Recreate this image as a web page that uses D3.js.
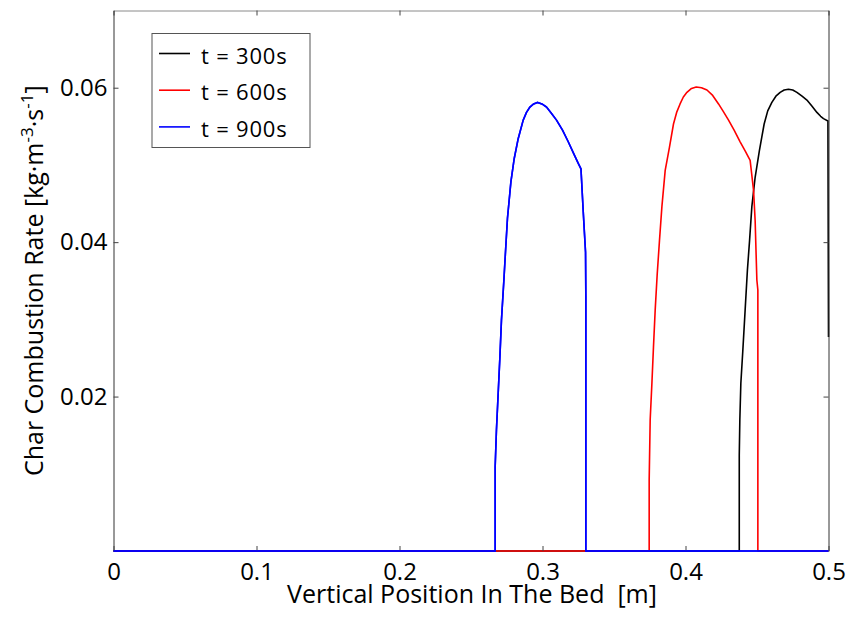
<!DOCTYPE html>
<html>
<head>
<meta charset="utf-8">
<script src="https://cdn.jsdelivr.net/npm/d3@7"></script>
<style>
  html, body { margin: 0; padding: 0; background: #fff; }
  svg { display: block; }
  text { font-family: "Open Sans", "Noto Sans", sans-serif; fill: #000; }
</style>
</head>
<body>
<svg id="chart" width="848" height="617"></svg>
<script>
// Char combustion rate profiles along the bed height at three times.
// Each series is a list of [position (m), rate (kg·m^-3·s^-1)] samples.
const seriesNames = ["t = 300s", "t = 600s", "t = 900s"];
const seriesColors = ["#000000", "#ff0000", "#0000ff"];

const rate300 = [
  [0.0, 0], [0.4376, 0], [0.4376, 0.0124], [0.4380, 0.0170], [0.4387, 0.0217],
  [0.4401, 0.0260], [0.4417, 0.0312], [0.4433, 0.0364], [0.4448, 0.0402],
  [0.4464, 0.0446], [0.4487, 0.0484], [0.4517, 0.0519], [0.4550, 0.0553],
  [0.4575, 0.0570], [0.4604, 0.0581], [0.4632, 0.0589], [0.4662, 0.0594],
  [0.4690, 0.0597], [0.4720, 0.0598], [0.4750, 0.0597], [0.4779, 0.0594],
  [0.4815, 0.0589], [0.4849, 0.0584], [0.4885, 0.0576], [0.4919, 0.0568],
  [0.4945, 0.0563], [0.4965, 0.0560], [0.4996, 0.0557], [0.5000, 0.0277]
];

const rate600 = [
  [0.0, 0], [0.3746, 0], [0.3746, 0.0092], [0.3753, 0.0170], [0.3765, 0.0217],
  [0.3776, 0.0264], [0.3788, 0.0312], [0.3802, 0.0358], [0.3818, 0.0402],
  [0.3835, 0.0446], [0.3858, 0.0493], [0.3888, 0.0523], [0.3916, 0.0553],
  [0.3938, 0.0568], [0.3962, 0.0579], [0.3985, 0.0588], [0.4010, 0.0594],
  [0.4042, 0.0599], [0.4075, 0.0601], [0.4112, 0.0600], [0.4150, 0.0597],
  [0.4190, 0.0590], [0.4231, 0.0579], [0.4265, 0.0569], [0.4301, 0.0558],
  [0.4340, 0.0545], [0.4382, 0.0530], [0.4418, 0.0518], [0.4452, 0.0506],
  [0.4476, 0.0467], [0.4487, 0.0428], [0.4499, 0.0351], [0.4506, 0.0338],
  [0.4506, 0], [0.5, 0]
];

const rate900 = [
  [0.0, 0], [0.2669, 0], [0.2669, 0.0109], [0.2678, 0.0157], [0.2690, 0.0204],
  [0.2702, 0.0251], [0.2713, 0.0299], [0.2730, 0.0351], [0.2737, 0.0374],
  [0.2755, 0.0431], [0.2779, 0.0478], [0.2802, 0.0508], [0.2830, 0.0534],
  [0.2865, 0.0558], [0.2888, 0.0568], [0.2912, 0.0575], [0.2938, 0.0579],
  [0.2965, 0.0581], [0.2996, 0.0579], [0.3028, 0.0575], [0.3062, 0.0567],
  [0.3098, 0.0558], [0.3140, 0.0545], [0.3180, 0.0530], [0.3215, 0.0516],
  [0.3250, 0.0502], [0.3269, 0.0495], [0.3285, 0.0439], [0.3301, 0.0387],
  [0.3303, 0.0331], [0.3303, 0], [0.5, 0]
];

const xTicks = [0, 0.1, 0.2, 0.3, 0.4, 0.5];
const xTickLabels = ["0", "0.1", "0.2", "0.3", "0.4", "0.5"];
const yTicks = [0.02, 0.04, 0.06];
const yTickLabels = ["0.02", "0.04", "0.06"];

const allSeries = [rate300, rate600, rate900];

const svg = d3.select("#chart");
const plot = { left: 113.5, right: 828.5, top: 10.5, bottom: 551 };

const x = d3.scaleLinear().domain([0, 0.5]).range([plot.left, plot.right]);
const y = d3.scaleLinear().domain([0, 0.07]).range([plot.bottom, plot.top]);

const tickFont = 24;
const titleFont = 25;

// Axes: labelled bottom/left, tick-only top/right (boxed frame)
const bottomAxis = d3.axisBottom(x).tickValues(xTicks)
  .tickFormat((d, i) => xTickLabels[i]).tickSizeInner(-5).tickSizeOuter(0).tickPadding(12);
const leftAxis = d3.axisLeft(y).tickValues(yTicks)
  .tickFormat((d, i) => yTickLabels[i]).tickSizeInner(-5).tickSizeOuter(0).tickPadding(6);
const topAxis = d3.axisTop(x).tickValues(xTicks).tickFormat("").tickSizeInner(-5).tickSizeOuter(0);
const rightAxis = d3.axisRight(y).tickValues(yTicks).tickFormat("").tickSizeInner(-5).tickSizeOuter(0);

function styleAxis(g, color) {
  g.selectAll("path.domain").attr("stroke", color).attr("stroke-width", 1);
  g.selectAll(".tick line").attr("stroke", "#444");
  g.selectAll(".tick text").style("font-family", '"Open Sans", sans-serif')
    .style("font-size", tickFont + "px").attr("fill", "#000");
}

// curves, drawn first so the frame sits above them
const line = d3.line().x(d => x(d[0])).y(d => y(d[1]));
svg.append("g").selectAll("path").data(allSeries).join("path")
  .attr("d", line)
  .attr("fill", "none")
  .attr("stroke", (d, i) => seriesColors[i])
  .attr("stroke-width", 1.6)
  .attr("stroke-linejoin", "round");

svg.append("g").attr("transform", `translate(0,${plot.top})`).call(topAxis).call(g => styleAxis(g, "#8a8a8a"));
svg.append("g").attr("transform", `translate(${plot.right},0)`).call(rightAxis).call(g => styleAxis(g, "#333"));
svg.append("g").attr("transform", `translate(${plot.left},0)`).call(leftAxis).call(g => styleAxis(g, "#333"));
const gx = svg.append("g").attr("transform", `translate(0,${plot.bottom})`).call(bottomAxis);
styleAxis(gx, "#333");
gx.select("path.domain").attr("stroke", "none");

// repaint the zero segments so the last-drawn series shows on the baseline
svg.append("g").selectAll("path").data([rate900]).join("path")
  .attr("d", line).attr("fill", "none").attr("stroke", seriesColors[2]).attr("stroke-width", 1.6);

// x label
svg.append("text")
  .attr("x", (plot.left + plot.right) / 2 + 1)
  .attr("y", 603)
  .attr("text-anchor", "middle")
  .style("font-size", titleFont + "px")
  .text("Vertical Position In The Bed\u00a0 [m]");

// y label with superscript exponents
const yl = svg.append("text")
  .attr("transform", `translate(43,${(plot.top + plot.bottom) / 2}) rotate(-90)`)
  .attr("text-anchor", "middle")
  .style("font-size", titleFont + "px");
yl.append("tspan").text("Char Combustion Rate [kg·m");
yl.append("tspan").attr("dy", -10).style("font-size", "17px").text("-3");
yl.append("tspan").attr("dy", 10).text("·s");
yl.append("tspan").attr("dy", -10).style("font-size", "17px").text("-1");
yl.append("tspan").attr("dy", 10).text("]");

// legend
const legend = svg.append("g");
legend.append("rect")
  .attr("x", 152).attr("y", 33.5).attr("width", 158).attr("height", 114)
  .attr("fill", "#fff").attr("stroke", "#555").attr("stroke-width", 1);
seriesNames.forEach((name, i) => {
  const cy = 53.5 + i * 36.7;
  legend.append("line")
    .attr("x1", 159).attr("x2", 190).attr("y1", cy).attr("y2", cy)
    .attr("stroke", seriesColors[i]).attr("stroke-width", 1.6);
  legend.append("text")
    .attr("x", 201).attr("y", cy + 10)
    .style("font-size", "22px")
    .style("letter-spacing", "0.8px")
    .text(name);
});
</script>
</body>
</html>
